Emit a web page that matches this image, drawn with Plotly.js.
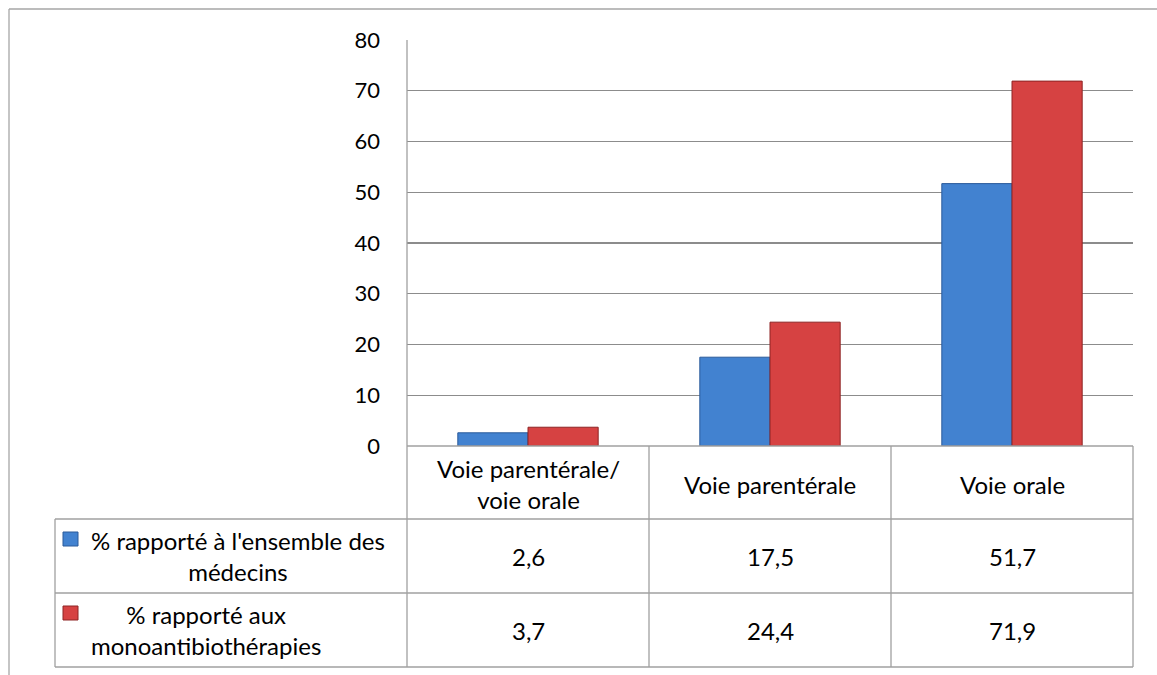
<!DOCTYPE html>
<html>
<head>
<meta charset="utf-8">
<script src="https://cdn.plot.ly/plotly-3.0.1.min.js"></script>
<style>html,body{margin:0;padding:0;background:#fff;}#chart{width:1157px;height:675px;}</style>
</head>
<body>
<div id="chart"></div>
<script>
var categories = ["Voie parentérale/<br>voie orale", "Voie parentérale", "Voie orale"];
var seriesNames = ["% rapporté à l'ensemble des<br>médecins", "% rapporté aux<br>monoantibiothérapies"];
var medecins = [2.6, 17.5, 51.7];
var monoantibio = [3.7, 24.4, 71.9];
var yTicks = [0, 10, 20, 30, 40, 50, 60, 70, 80];

var W = 1157, H = 675;
function px(x){ return x / W; }
function py(y){ return 1 - y / H; }
var FONT = "Lato, 'Open Sans', sans-serif";
var gridC = "#8c8c8c", tableC = "#a0a0a0";
var colors = ["#4282d0", "#d64242"];
var edges = ["#2a5a9a", "#8e2424"];

var traces = [medecins, monoantibio].map(function(vals, i){
  return {
    type: "bar", x: categories, y: vals, name: seriesNames[i],
    marker: {color: colors[i], line: {color: edges[i], width: 1}},
    hoverinfo: "none"
  };
});

var shapes = [];
function line(x0,y0,x1,y1,c){ shapes.push({type:"line", xref:"paper", yref:"paper", x0:px(x0), y0:py(y0), x1:px(x1), y1:py(y1), line:{color:c||tableC, width:1.3}}); }
// outer frame
line(9,9,1157,9,"#a6a6a6");
line(9,9,9,675,"#a6a6a6");
// table
line(407,40,407,667);
line(407,446,1133,446);
line(55,519,1133,519);
line(55,593,1133,593);
line(55,667,1133,667);
line(55,519,55,667);
line(649,446,649,667);
line(891,446,891,667);
line(1133,446,1133,667);
// legend keys
[532, 606].forEach(function(y, i){
  shapes.push({type:"rect", xref:"paper", yref:"paper", x0:px(63), x1:px(78), y0:py(y), y1:py(y+14), fillcolor:colors[i], line:{color:edges[i], width:1}});
});

var annotations = [];
var tf = {family: FONT, size: 24, color: "#000"};
categories.forEach(function(c){
  annotations.push({xref:"x", yref:"paper", x:c, y:py(484), text:c, showarrow:false, font:tf, align:"center", yanchor:"middle"});
});
[medecins, monoantibio].forEach(function(vals, i){
  var yc = i === 0 ? 556 : 630;
  vals.forEach(function(v, j){
    annotations.push({xref:"x", yref:"paper", x:categories[j], y:py(yc), text:String(v).replace(".", ","), showarrow:false, font:tf, yanchor:"middle"});
  });
  annotations.push({xref:"paper", yref:"paper", x:px(i===0?238:206), y:py(yc), text:seriesNames[i], showarrow:false, font:tf, align:"center", xanchor:"center", yanchor:"middle"});
});

var layout = {
  width: W, height: H,
  margin: {l:0, r:0, t:0, b:0},
  paper_bgcolor: "#fff", plot_bgcolor: "#fff",
  showlegend: false,
  barmode: "group", bargap: 0.42, bargroupgap: 0,
  xaxis: {domain:[px(407), px(1133)], showticklabels:false, showgrid:false, zeroline:false, showline:false, ticks:""},
  yaxis: {domain:[py(446), py(40)], range:[0,80], tickvals:yTicks, ticktext:yTicks.map(String),
          showgrid:true, gridcolor:gridC, gridwidth:1.2, zeroline:false, showline:false,
          ticks:"", ticklabelstandoff:26, tickfont:{family:FONT, size:22, color:"#000"}},
  shapes: shapes, annotations: annotations
};
Plotly.newPlot("chart", traces, layout, {staticPlot:true});
</script>
</body>
</html>
